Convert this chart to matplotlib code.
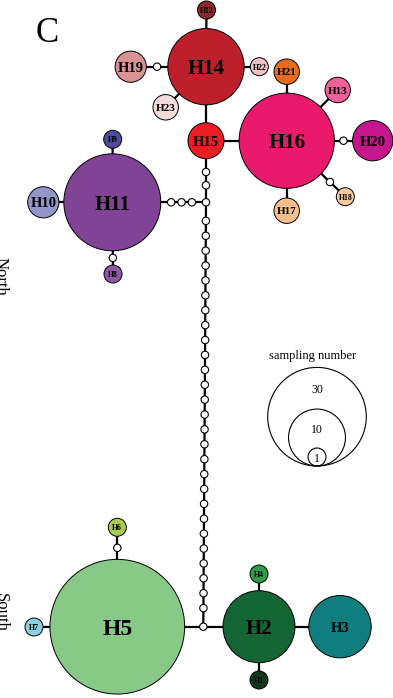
import numpy as np
import matplotlib
matplotlib.use("Agg")
import matplotlib.pyplot as plt
from matplotlib.patches import Circle

plt.rcParams["font.family"] = ["Liberation Serif", "DejaVu Serif"]

# ---- data: haplotypes and their sample counts ----
haplotypes = ["H1", "H2", "H3", "H4", "H5", "H6", "H7", "H8", "H9", "H10",
              "H11", "H12", "H13", "H14", "H15", "H16", "H17", "H18", "H19",
              "H20", "H21", "H22", "H23"]
counts = [1, 16, 12, 1, 56, 1, 1, 1, 1, 3,
          29, 1, 2, 18, 4, 28, 2, 1, 3,
          5, 2, 1, 2]
colors = ["#10391c", "#136633", "#107e7e", "#2f9a48", "#88c988", "#a9cb50",
          "#8dd1e1", "#8f59a8", "#4f4a9c", "#9396c9",
          "#804396", "#8a2a2e", "#ef619b", "#bd1f2b", "#ec1d25", "#e91a6c",
          "#f8bf8d", "#fac99c", "#d99395",
          "#c7168b", "#e46d20", "#ecc2c3", "#f4dcdc"]

# network edges: (node, node, number of inferred median vectors between them)
edges = [("H12", "H14", 0), ("H19", "H14", 1), ("H14", "H22", 0),
         ("H14", "H23", 0), ("H14", "H15", 0), ("H15", "H16", 0),
         ("H16", "H21", 0), ("H16", "H13", 0), ("H16", "H20", 1),
         ("H16", "H17", 0), ("H16", "H18", 1), ("H15", "J1", 2),
         ("J1", "H11", 3), ("J1", "J2", 27), ("J2", "H5", 0),
         ("J2", "H2", 0), ("H11", "H9", 0), ("H11", "H10", 0),
         ("H11", "H8", 1), ("H5", "H6", 1), ("H5", "H7", 0),
         ("H2", "H4", 0), ("H2", "H1", 0), ("H2", "H3", 0)]

legend_counts = [30, 10, 1]

# ---- layout (canvas units, y downwards) ----
pos = {
    "H1": (259, 680), "H2": (259, 626.7), "H3": (340, 626.7),
    "H4": (259, 574), "H5": (117.3, 626.7), "H6": (117.3, 527.3),
    "H7": (34, 627), "H8": (113, 274), "H9": (112.7, 139.3),
    "H10": (43.3, 202.3), "H11": (112.3, 202.3), "H12": (206.5, 10),
    "H13": (337.7, 90), "H14": (206, 66.7), "H15": (206, 140.7),
    "H16": (286.7, 140.7), "H17": (286.7, 210.7), "H18": (345.3, 196.7),
    "H19": (130.7, 66.7), "H20": (372.7, 140.7), "H21": (286.7, 71.7),
    "H22": (259.3, 66.7), "H23": (165.7, 107.3),
    "J1": (206, 202.3), "J2": (203.3, 626.7),
}
label_size = {"H5": 17, "H14": 15, "H16": 15, "H11": 15, "H2": 15,
              "H3": 10.5, "H15": 10.5, "H20": 10.5, "H19": 10.5, "H10": 10.5,
              "H13": 8, "H17": 8, "H21": 8, "H23": 8}
small_label = 5.6
K = 9.0            # radius per sqrt(sample)
MV_R = 3.7         # median vector radius
EDGE_LW = 1.6

radius = {h: K * np.sqrt(c) for h, c in zip(haplotypes, counts)}
radius["J1"] = MV_R
radius["J2"] = MV_R

fig = plt.figure(figsize=(3.93, 6.98), dpi=100)
ax = fig.add_axes([0, 0, 1, 1])
ax.set_xlim(0, 393)
ax.set_ylim(698, 0)
ax.set_aspect("equal")
ax.axis("off")


def median_vector(x, y):
    ax.add_patch(Circle((x, y), MV_R, facecolor="white", edgecolor="black",
                        lw=0.8, zorder=3))


# edges and median vectors
for a, b, n in edges:
    (x0, y0), (x1, y1) = pos[a], pos[b]
    ax.plot([x0, x1], [y0, y1], color="black", lw=EDGE_LW, zorder=1,
            solid_capstyle="butt")
    if n:
        d = np.hypot(x1 - x0, y1 - y0)
        ux, uy = (x1 - x0) / d, (y1 - y0) / d
        s0, s1 = radius[a], d - radius[b]
        for t in np.linspace(s0, s1, n + 2)[1:-1]:
            median_vector(x0 + ux * t, y0 + uy * t)

median_vector(*pos["J1"])
median_vector(*pos["J2"])

# haplotype circles
for h, c in zip(haplotypes, colors):
    x, y = pos[h]
    ax.add_patch(Circle((x, y), radius[h], facecolor=c, edgecolor="black",
                        lw=0.7, zorder=4))
    ax.text(x, y, h, ha="center", va="center_baseline",
            fontsize=label_size.get(h, small_label), fontweight="bold",
            color="black", zorder=5)

# sample size legend
lx, lbottom = 317, 466
rs = [K * np.sqrt(c) for c in legend_counts]
for i, (c, r) in enumerate(zip(legend_counts, rs)):
    ax.add_patch(Circle((lx, lbottom - r), r, facecolor="none",
                        edgecolor="black", lw=0.8, zorder=2))
    top = lbottom - 2 * r
    if i + 1 < len(rs):
        ty = (top + lbottom - 2 * rs[i + 1]) / 2
    else:
        ty = lbottom - r
    ax.text(lx, ty, str(c), ha="center", va="center_baseline", fontsize=8.5)
ax.text(313, 355, "sampling number", ha="center", va="center_baseline",
        fontsize=9)

# panel letter and region labels
ax.text(47, 30, "C", ha="center", va="center_baseline", fontsize=25)
ax.text(1, 276, "North", rotation=270, ha="center", va="center", fontsize=12)
ax.text(1, 612, "South", rotation=270, ha="center", va="center", fontsize=12)

fig.savefig("out.png", dpi=100)
